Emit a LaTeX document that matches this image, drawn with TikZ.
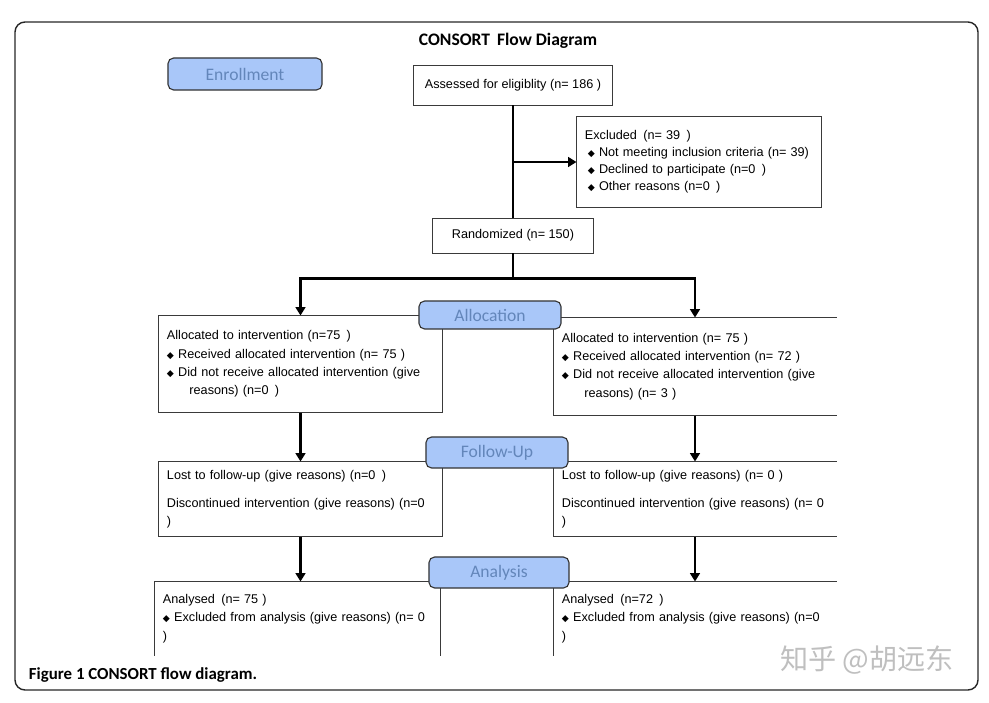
\documentclass[tikz,border=0pt]{standalone}
\usepackage{fontspec}
\setmainfont{Liberation Sans}
\newfontfamily\carlito{Carlito}
\newfontfamily\dejavu{DejaVu Sans}
\newfontfamily\cjk{Noto Sans CJK SC}
\usepackage{xcolor}
\usepackage{tikz}
\usetikzlibrary{arrows.meta}

\definecolor{stagefill}{HTML}{A9C7F9}
\definecolor{stagetext}{HTML}{6386BA}
\definecolor{boxline}{HTML}{3A3A3A}

\newcommand{\boxfont}{\fontsize{9}{13}\selectfont}
\newcommand{\dia}{{\dejavu\fontsize{6.5}{6.5}\selectfont ◆}\hspace{3pt}}
\newcommand{\hang}{\hspace*{16pt}}

\tikzset{
  box/.style={draw=boxline, line width=0.7pt, font=\boxfont, align=left, inner xsep=0.2cm},
  openbox/.style={box, draw=none},
  edge/.style={draw=boxline, line width=0.7pt},
  stage/.style={draw=black!80, fill=stagefill, text=stagetext, rounded corners=4pt,
    line width=0.8pt, font=\carlito\fontsize{12.5}{14}\selectfont, minimum height=0.75cm},
  flow/.style={line width=1.6pt, black},
  arr/.style={flow, -{Triangle[width=7pt,length=6pt]}}
}

\begin{document}
\begin{tikzpicture}[x=0.025cm, y=-0.025cm]
  \useasboundingbox (0,0) rectangle (989,703);
  \draw[black!85, line width=1pt, rounded corners=0.25cm] (15,22) rectangle (978,690);

  \node[font=\carlito\bfseries\fontsize{12.5}{14}\selectfont] (title) at (508,41) {CONSORT\, Flow Diagram};

  % enrollment
  \node[box, align=center, minimum width=4.95cm, minimum height=1cm] (assess) at (513,85)
    {Assessed for eligiblity (n= 186 )};
  \node[box, text width=5.7cm, minimum height=2.25cm, font=\fontsize{9}{12}\selectfont] (excl) at (699,162)
    {Excluded\, (n= 39\, )\\
     \hspace*{2pt}\dia Not meeting inclusion criteria (n= 39)\\
     \hspace*{2pt}\dia Declined to participate (n=0\, )\\
     \hspace*{2pt}\dia Other reasons (n=0\, )};
  \node[box, align=center, minimum width=4cm, minimum height=0.875cm] (rand) at (513,235.5)
    {Randomized (n= 150)};

  % allocation
  \node[box, text width=6.675cm, minimum height=2.4cm] (allocL) at (300.5,364)
    {Allocated to intervention (n=75\, )\\
     \dia Received allocated intervention (n= 75 )\\
     \dia Did not receive allocated intervention (give\\
     \hang reasons) (n=0\, )};
  \node[openbox, text width=6.65cm, minimum height=2.425cm] (allocR) at (695,366.5)
    {Allocated to intervention (n= 75 )\\
     \dia Received allocated intervention (n= 72 )\\
     \dia Did not receive allocated intervention (give\\
     \hang reasons) (n= 3 )};

  % follow-up
  \node[box, text width=6.675cm, minimum height=1.85cm] (followL) at (300.5,499)
    {Lost to follow-up (give reasons) (n=0\, )\\[7pt]
     Discontinued intervention (give reasons) (n=0\\
     )};
  \node[openbox, text width=6.65cm, minimum height=1.85cm] (followR) at (695,499)
    {Lost to follow-up (give reasons) (n= 0 )\\[7pt]
     Discontinued intervention (give reasons) (n= 0\\
     )};

  % analysis
  \node[openbox, text width=6.725cm, minimum height=1.825cm] (analL) at (297.5,618.5)
    {Analysed\, (n= 75 )\\
     \dia Excluded from analysis (give reasons) (n= 0\\
     )};
  \node[openbox, text width=6.65cm, minimum height=1.825cm] (analR) at (695,618.5)
    {Analysed\, (n=72\, )\\
     \dia Excluded from analysis (give reasons) (n=0\\
     )};

  % open sides
  \draw[edge] (allocR.north east) -- (allocR.north west) -- (allocR.south west) -- (allocR.south east);
  \draw[edge] (followR.north east) -- (followR.north west) -- (followR.south west) -- (followR.south east);
  \draw[edge] (analL.south west) -- (analL.north west) -- (analL.north east) -- (analL.south east);
  \draw[edge] (analR.north east) -- (analR.north west) -- (analR.south west);

  % arrows
  \draw[flow] (assess.south) -- (assess.south |- rand.north);
  \draw[arr] (assess.south |- excl.west) -- (excl.west);
  \draw[flow] (rand.south) -- ++(0,25) coordinate (split);
  \draw[arr] (split) -| (allocL.north);
  \draw[arr] (split) -| (allocR.north);
  \draw[arr] (allocL.south) -- (followL.north);
  \draw[arr] (allocR.south) -- (followR.north);
  \draw[arr] (followL.south) -- (followL.south |- analL.north);
  \draw[arr] (followR.south) -- (analR.north);

  % stages
  \node[stage, minimum width=3.85cm, minimum height=0.8cm] (enroll) at (245,74) {Enrollment};
  \node[stage, minimum width=3.55cm, minimum height=0.7cm] (allocation) at (490,315) {Allocation};
  \node[stage, minimum width=3.55cm, minimum height=0.775cm] (followup) at (497,452.5) {Follow-Up};
  \node[stage, minimum width=3.5cm, minimum height=0.775cm] (analysis) at (499,572.5) {Analysis};

  \node[anchor=west, font=\carlito\bfseries\fontsize{12}{14}\selectfont] (caption) at (24,675)
    {Figure 1 CONSORT flow diagram.};
  \node[font=\cjk\fontsize{20}{22}\selectfont, text=black!25] (mark) at (867,660) {知乎 @胡远东};
\end{tikzpicture}
\end{document}
